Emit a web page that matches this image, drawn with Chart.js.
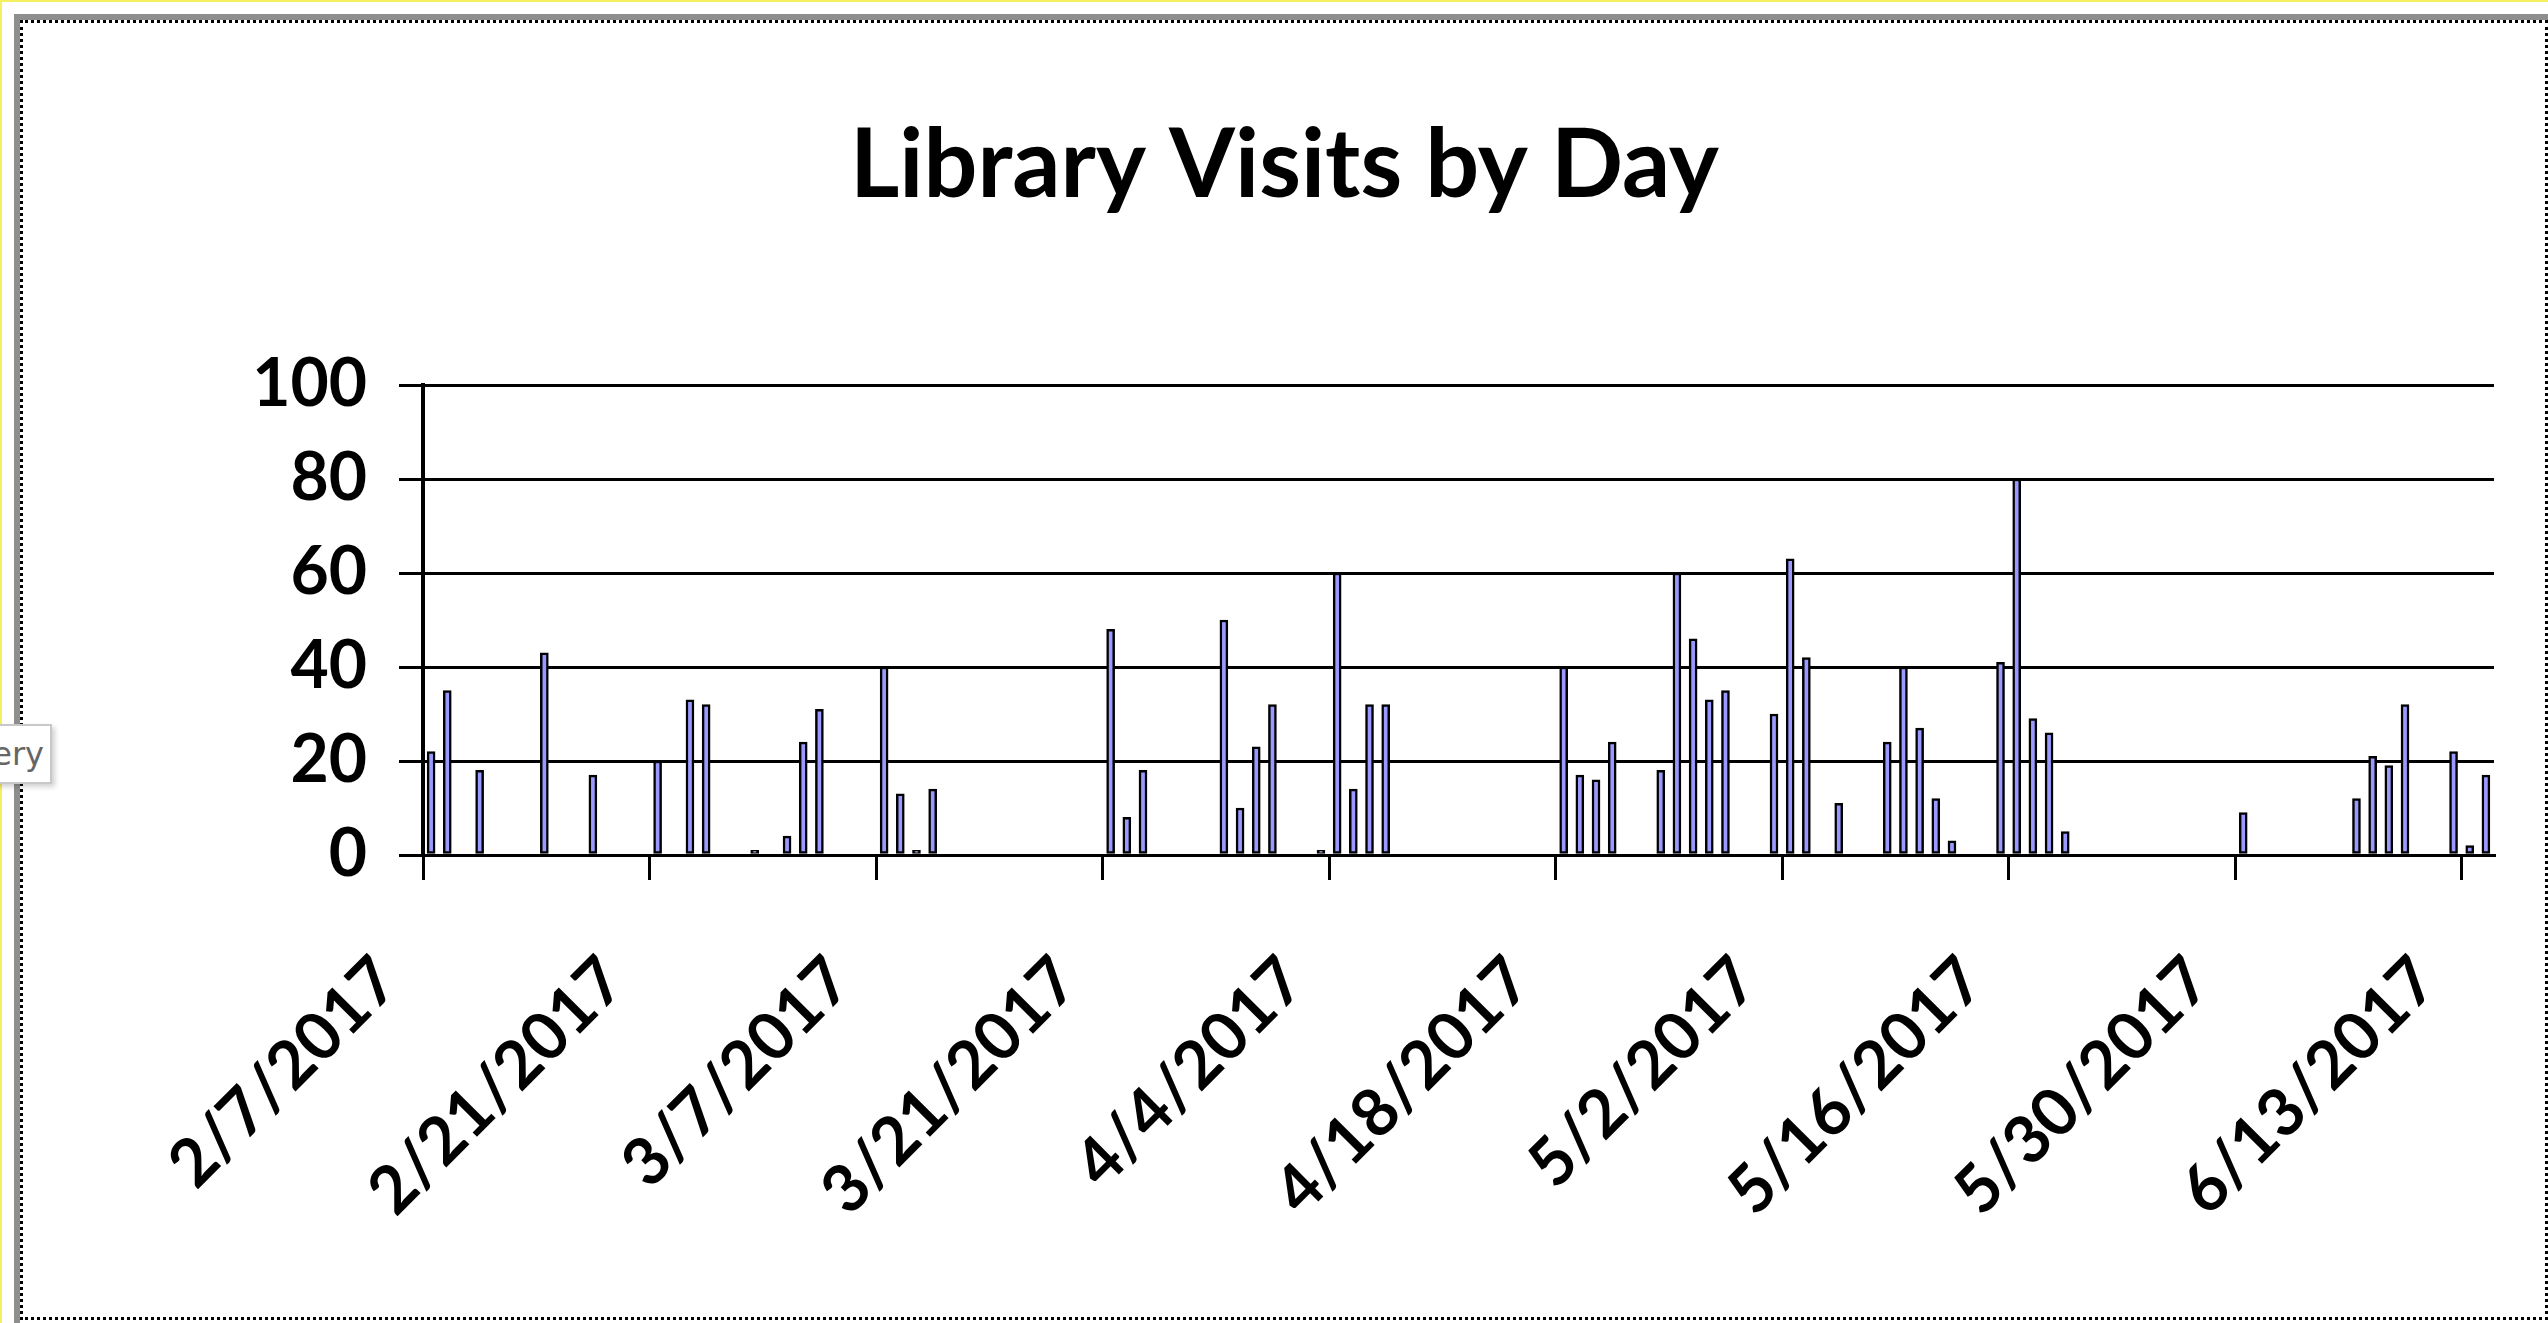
<!DOCTYPE html>
<html>
<head>
<meta charset="utf-8">
<title>Library Visits by Day</title>
<script src="https://cdn.jsdelivr.net/npm/chart.js@4/dist/chart.umd.min.js"></script>
<style>
  html, body { margin: 0; padding: 0; background: #fff; }
  body { width: 2548px; height: 1323px; position: relative; overflow: hidden; }
  .edge { position: absolute; left: 0; top: 0; width: 2548px; height: 1323px;
          box-sizing: border-box; border-left: 2px solid #f5f060; border-top: 2px solid #f5f060; }
  .shade { position: absolute; left: 14px; top: 14px; width: 2540px; height: 1315px;
           box-sizing: border-box; border-left: 6px solid #8e8e8e; border-top: 6px solid #8e8e8e; }
  .frame { position: absolute; left: 20px; top: 20px; width: 2528px; height: 1300px;
           box-sizing: border-box; border: 3px dotted #000; }
  .tip { position: absolute; left: -10px; top: 724px; width: 62px; height: 60px; box-sizing: border-box;
         border: 2px solid #c8c8c8; background: #fff; box-shadow: 3px 3px 5px rgba(0,0,0,0.18);
         font-family: "DejaVu Sans", sans-serif; font-size: 32px; color: #666; line-height: 56px;
         text-align: right; padding-right: 6px; }
  #wrap { position: absolute; left: 0; top: 0; width: 2548px; height: 1323px; }
</style>
</head>
<body>
<div class="edge"></div>
<div class="shade"></div>
<div class="frame"></div>
<div class="tip">ery</div>
<div id="wrap"><canvas id="visitsChart" width="2548" height="1323"></canvas></div>
<script>
// days that had visits, and how many
const visitDates = [
  '2/7/2017', '2/8/2017', '2/10/2017', '2/14/2017', '2/17/2017', '2/21/2017', '2/23/2017', '2/24/2017',
  '2/27/2017', '3/1/2017', '3/2/2017', '3/3/2017', '3/7/2017', '3/8/2017', '3/9/2017', '3/10/2017',
  '3/21/2017', '3/22/2017', '3/23/2017', '3/28/2017', '3/29/2017', '3/30/2017', '3/31/2017',
  '4/3/2017', '4/4/2017', '4/5/2017', '4/6/2017', '4/7/2017',
  '4/18/2017', '4/19/2017', '4/20/2017', '4/21/2017', '4/24/2017', '4/25/2017', '4/26/2017', '4/27/2017', '4/28/2017',
  '5/1/2017', '5/2/2017', '5/3/2017', '5/5/2017', '5/8/2017', '5/9/2017', '5/10/2017', '5/11/2017', '5/12/2017',
  '5/15/2017', '5/16/2017', '5/17/2017', '5/18/2017', '5/19/2017',
  '5/30/2017', '6/6/2017', '6/7/2017', '6/8/2017', '6/9/2017', '6/12/2017', '6/13/2017', '6/14/2017'
]
const visitCounts = [
  22, 35, 18, 43, 17, 20, 33, 32,
  1, 4, 24, 31, 40, 13, 1, 14,
  48, 8, 18, 50, 10, 23, 32,
  1, 60, 14, 32, 32,
  40, 17, 16, 24, 18, 60, 46, 33, 35,
  30, 63, 42, 11, 24, 40, 27, 12, 3,
  41, 80, 29, 26, 5,
  9, 12, 21, 19, 32, 22, 2, 17
]
// labels shown under the date axis
const tickLabels = [
  '2/7/2017', '2/21/2017', '3/7/2017', '3/21/2017', '4/4/2017',
  '4/18/2017', '5/2/2017', '5/16/2017', '5/30/2017', '6/13/2017'
]
const yTicks = [0, 20, 40, 60, 80, 100]

// date axis: one category per day from 2/7/2017 to 6/14/2017
const dayLabels = []
for (let i = 0; i < 128; i++) {
  const d = new Date(2017, 1, 7 + i)
  dayLabels.push(`${d.getMonth() + 1}/${d.getDate()}/${d.getFullYear()}`)
}

const labelFont = { family: 'Lato', weight: 'bold', size: 66 }

const data = {
  labels: dayLabels,
  datasets: [
    {
      label: 'Visits',
      data: visitDates.map((d, i) => ({ x: d, y: visitCounts[i] })),
      backgroundColor: '#9999ff',
      borderColor: '#000000',
      borderWidth: 2.5,
      borderSkipped: false,
      barThickness: 8,
    },
  ],
}

new Chart(document.getElementById('visitsChart'), {
  type: 'bar',
  data: data,
  options: {
    responsive: false,
    animation: false,
    layout: { padding: { left: 75, right: 54, top: 0, bottom: 20 } },
    plugins: {
      legend: { display: false },
      tooltip: { enabled: false },
      title: {
        display: true,
        text: 'Library Visits by Day',
        color: '#000',
        font: { family: 'Lato', weight: 'bold', size: 95 },
        padding: { top: 109, bottom: 162 },
      },
    },
    scales: {
      x: {
        type: 'category',
        offset: true,
        afterFit: (scale) => {
          scale.height = 448
          // labels go down-left from the ticks, no side room needed
          scale.paddingLeft = 0
          scale.paddingRight = 0
        },
        grid: {
          offset: true,
          drawOnChartArea: false,
          drawTicks: true,
          tickLength: 25,
          lineWidth: 3,
          color: (ctx) => (ctx.index % 14 === 0 ? '#000' : 'rgba(0,0,0,0)'),
        },
        border: { display: true, color: '#000', width: 3 },
        ticks: {
          autoSkip: false,
          minRotation: 45,
          maxRotation: 45,
          color: '#000',
          font: labelFont,
          padding: 62,
          labelOffset: -44,
          callback: (value, index) => (tickLabels.includes(dayLabels[index]) ? dayLabels[index] : ''),
        },
      },
      y: {
        min: 0,
        max: 100,
        afterFit: (scale) => { scale.width = 348 },
        afterBuildTicks: (scale) => { scale.ticks = yTicks.map(v => ({ value: v })) },
        grid: { color: '#000', lineWidth: 3, tickLength: 24, drawTicks: true },
        border: { display: true, color: '#000', width: 4 },
        ticks: { color: '#000', font: labelFont, padding: 32 },
      },
    },
  },
})
</script>
</body>
</html>
